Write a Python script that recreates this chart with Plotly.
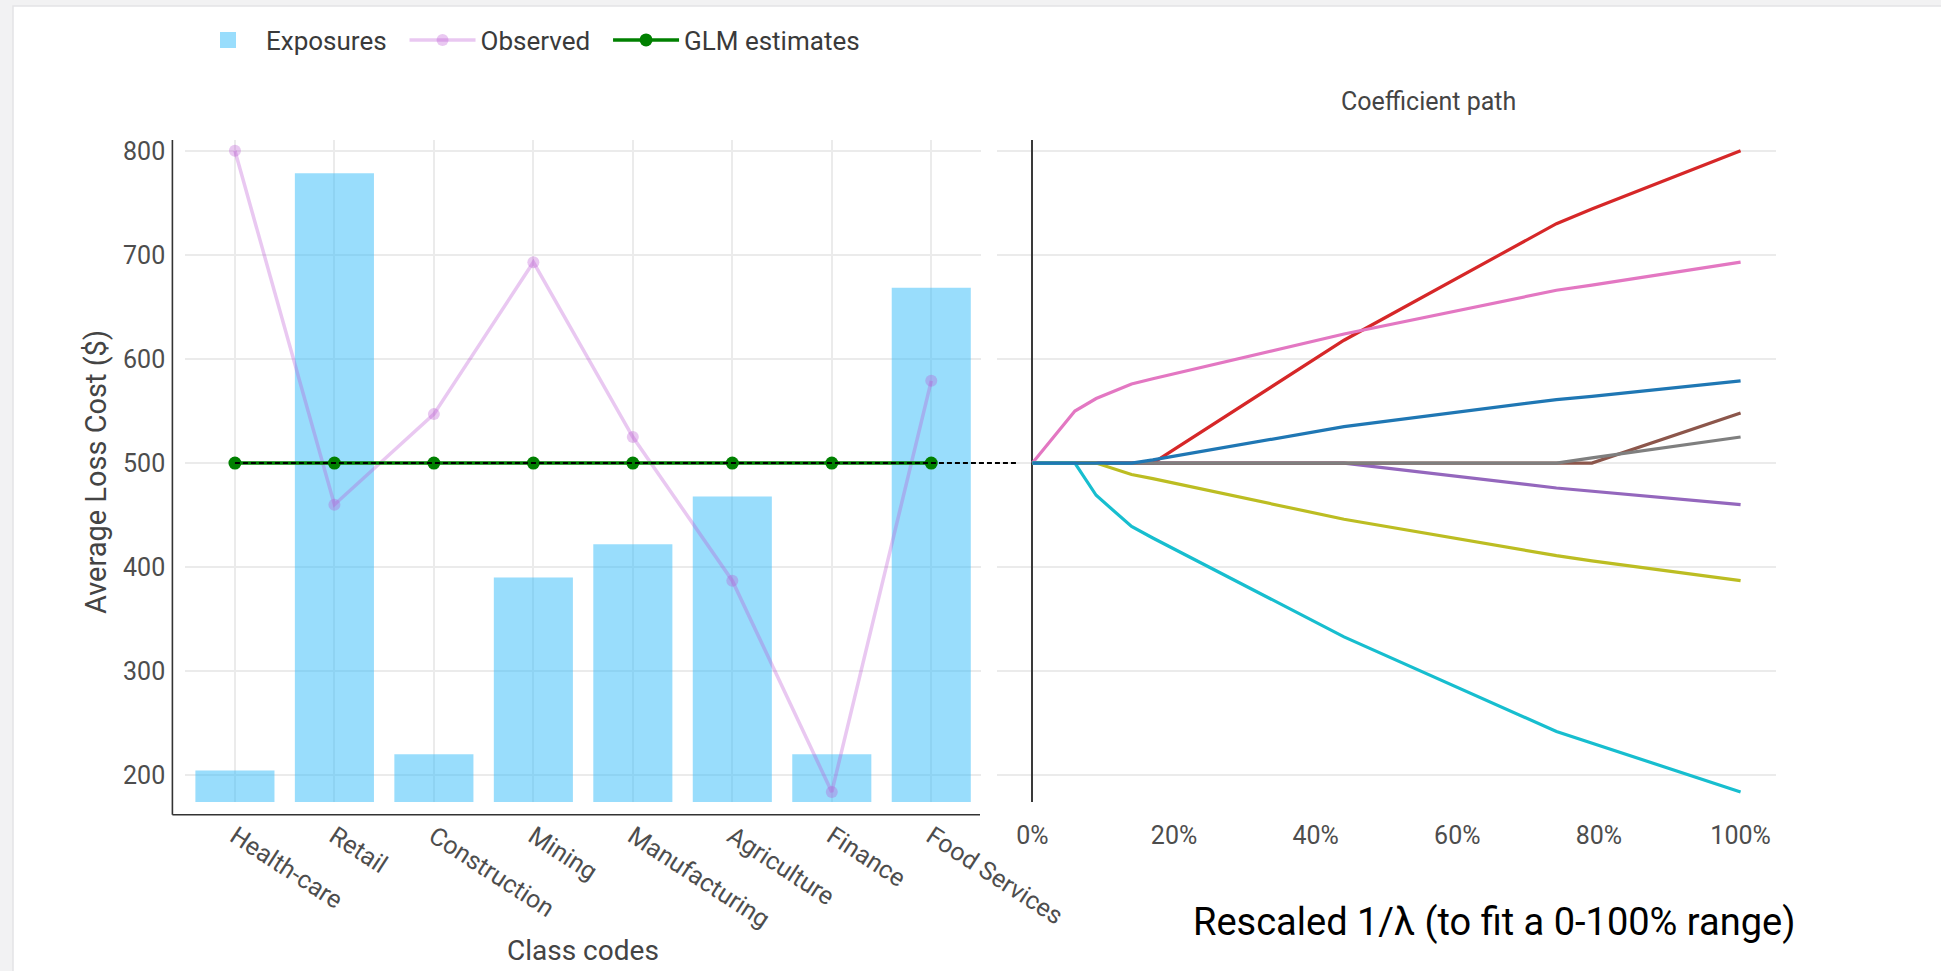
import plotly.graph_objects as go

# ---------------- data ----------------
categories = ["Health-care", "Retail", "Construction", "Mining",
              "Manufacturing", "Agriculture", "Finance", "Food Services"]
exposures = [50, 1000, 76, 357, 410, 486, 76, 818]
observed = [800, 460, 547, 693, 525, 387, 184, 579]
glm_estimates = [500, 500, 500, 500, 500, 500, 500, 500]

loss_ticks = [200, 300, 400, 500, 600, 700, 800]
pct_ticks = [0, 20, 40, 60, 80, 100]
pct_labels = ["0%", "20%", "40%", "60%", "80%", "100%"]

path_x = [0, 6, 9, 14, 17, 44, 74, 79, 100]
path_health = [500, 500, 500, 500, 500, 618, 730, 744, 800]
path_retail = [500, 500, 500, 500, 500, 500, 476, 473, 460]
path_construction = [500, 500, 500, 500, 500, 500, 500, 500, 548]
path_mining = [500, 550, 562, 576, 581, 624, 666, 671, 693]
path_manufacturing = [500, 500, 500, 500, 500, 500, 500, 505, 525]
path_agriculture = [500, 500, 500, 489, 485, 446, 411, 406, 387]
path_finance = [500, 500, 469, 439, 428, 333, 242, 231, 184]
path_food = [500, 500, 500, 500, 503, 535, 561, 564, 579]

# ---------------- layout geometry (px) ----------------
W, H = 1941, 971
def px_x(p):
    return p / W
def px_y(p):
    return 1 - p / H

left_dom = [px_x(185.2), px_x(981)]
right_dom = [px_x(997), px_x(1776)]
y_dom = [px_y(802), px_y(140)]
AXIS_OFFSET = 12.8  # px gap between plot area and drawn axis lines

FONT = "Roboto"
TICK_COLOR = "#4d4d4d"
GRID = "#ebebeb"
BAR_COLOR = "rgba(60,190,250,0.52)"
PAD = "\u00a0\u00a0"  # extra spacing between legend entries

fig = go.Figure()

fig.add_trace(go.Bar(
    x=categories, y=exposures, name="Exposures", showlegend=False,
    legendgroup="exp",
    marker=dict(color=BAR_COLOR, line=dict(width=0)),
    xaxis="x", yaxis="y", hoverinfo="x+y"))

# legend entry for the exposures (square swatch)
fig.add_trace(go.Scatter(
    x=[None], y=[None], name="Exposures" + PAD, mode="markers", legendgroup="exp",
    marker=dict(color=BAR_COLOR, size=25, symbol="square"),
    xaxis="x", yaxis="y", hoverinfo="skip"))

fig.add_trace(go.Scatter(
    x=categories, y=observed, name="Observed" + PAD, mode="lines+markers",
    line=dict(color="rgba(186,85,211,0.32)", width=3.5),
    marker=dict(color="rgba(186,85,211,0.32)", size=12),
    xaxis="x", yaxis="y2"))

fig.add_trace(go.Scatter(
    x=categories, y=glm_estimates, name="GLM estimates", mode="lines+markers",
    line=dict(color="#008000", width=3.5),
    marker=dict(color="#008000", size=13),
    xaxis="x", yaxis="y2"))

paths = [
    (path_health, "#d62728"),
    (path_retail, "#9467bd"),
    (path_construction, "#8c564b"),
    (path_mining, "#e377c2"),
    (path_manufacturing, "#7f7f7f"),
    (path_agriculture, "#bcbd22"),
    (path_finance, "#17becf"),
    (path_food, "#1f77b4"),
]
for (vals, col), cat in zip(paths, categories):
    fig.add_trace(go.Scatter(
        x=path_x, y=vals, mode="lines", name=cat, showlegend=False,
        line=dict(color=col, width=3.2), xaxis="x2", yaxis="y3"))

loss_range = [174.3, 810.4]

fig.update_layout(
    width=W, height=H, autosize=False,
    margin=dict(l=0, r=0, t=0, b=0, pad=0),
    paper_bgcolor="#f2f2f3", plot_bgcolor="rgba(0,0,0,0)",
    font=dict(family=FONT, size=25, color=TICK_COLOR),
    bargap=0.205,
    legend=dict(orientation="h", x=px_x(190), y=px_y(40),
                xanchor="left", yanchor="middle",
                font=dict(family=FONT, size=26, color="#3a3a3a"),
                itemwidth=66, bgcolor="rgba(0,0,0,0)"),
    xaxis=dict(domain=left_dom, type="category", range=[-0.5, 7.5],
               anchor="y", showgrid=True, gridcolor=GRID, gridwidth=1.5,
               showline=False, zeroline=False, ticks="", tickangle=33,
               ticklabelstandoff=14, automargin=False,
               tickfont=dict(family=FONT, size=25, color=TICK_COLOR)),
    yaxis=dict(domain=y_dom, range=[0, 1053], visible=False,
               anchor="x", automargin=False, showgrid=False),
    yaxis2=dict(overlaying="y", side="left", anchor="x", range=loss_range,
                tickvals=loss_ticks, showgrid=True, gridcolor=GRID,
                gridwidth=1.5, zeroline=False, showline=False, ticks="",
                ticklabelstandoff=19, automargin=False,
                tickfont=dict(family=FONT, size=25, color=TICK_COLOR)),
    xaxis2=dict(domain=right_dom, range=[-5, 105], anchor="y3",
                tickvals=pct_ticks, ticktext=pct_labels, showgrid=False,
                zeroline=True, zerolinecolor="#3a3a3a", zerolinewidth=1.5,
                showline=False, ticks="", ticklabelstandoff=16,
                automargin=False,
                tickfont=dict(family=FONT, size=25, color=TICK_COLOR)),
    yaxis3=dict(domain=y_dom, anchor="x2", range=loss_range,
                tickvals=loss_ticks, showticklabels=False, showgrid=True,
                gridcolor=GRID, gridwidth=1.5, zeroline=False,
                showline=False, ticks="", automargin=False),
)

ax_x = left_dom[0] - AXIS_OFFSET / W
ax_y = y_dom[0] - AXIS_OFFSET / H
shapes = [
    # white card
    dict(type="rect", xref="paper", yref="paper", x0=px_x(13), x1=1.02,
         y0=-0.05, y1=px_y(6), fillcolor="white",
         line=dict(color="#e4e4e6", width=1.5), layer="below"),
    # offset y axis line
    dict(type="line", xref="paper", yref="paper", x0=ax_x, x1=ax_x,
         y0=ax_y, y1=y_dom[1], line=dict(color="#333333", width=1.6)),
    # offset x axis line
    dict(type="line", xref="paper", yref="paper", x0=ax_x, x1=left_dom[1] - 1 / W,
         y0=ax_y, y1=ax_y, line=dict(color="#333333", width=1.6)),
    # dashed intercept reference line
    dict(type="line", xref="paper", yref="y2",
         x0=left_dom[0] + (left_dom[1] - left_dom[0]) / 16,
         x1=right_dom[0] + 20 / W,
         y0=glm_estimates[0], y1=glm_estimates[0],
         line=dict(color="black", width=2, dash="5px,3px")),
]
fig.update_layout(shapes=shapes)

annotations = [
    dict(text="Average Loss Cost ($)", xref="paper", yref="paper",
         x=px_x(96), y=px_y(472), textangle=-90, showarrow=False,
         xanchor="center", yanchor="middle",
         font=dict(family=FONT, size=29, color="#444444")),
    dict(text="Class codes", xref="paper", yref="paper",
         x=(left_dom[0] + left_dom[1]) / 2, y=px_y(950), showarrow=False,
         xanchor="center", yanchor="middle",
         font=dict(family=FONT, size=28, color="#444444")),
    dict(text="Coefficient path", xref="paper", yref="paper",
         x=px_x(1428), y=px_y(101), showarrow=False,
         xanchor="center", yanchor="middle",
         font=dict(family=FONT, size=25, color="#444444")),
    dict(text="Rescaled 1/λ (to fit a 0-100% range)", xref="paper", yref="paper",
         x=px_x(1494), y=px_y(922), showarrow=False,
         xanchor="center", yanchor="middle",
         font=dict(family=FONT, size=38, color="#000000")),
]
fig.update_layout(annotations=annotations)

fig.write_html("out.html", config={"displayModeBar": False},
               post_script="document.body.style.margin='0';document.body.style.overflow='hidden';")
